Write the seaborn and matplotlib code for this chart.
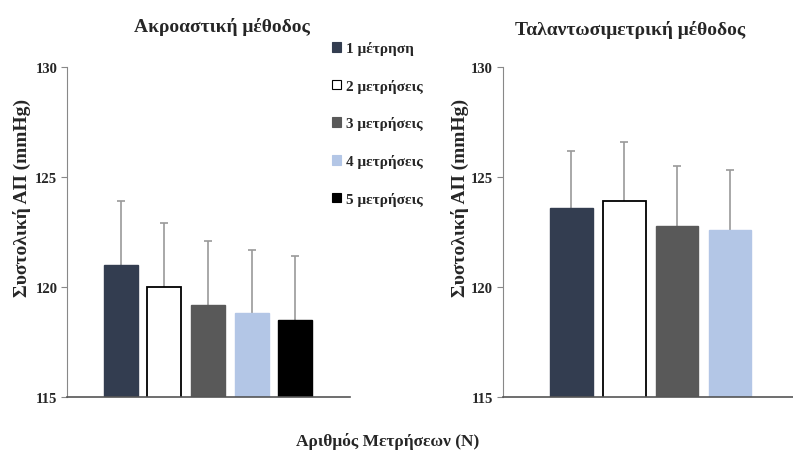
import matplotlib
matplotlib.use("Agg")
import matplotlib.pyplot as plt
import matplotlib.patches as mpatches
import numpy as np
import pandas as pd
import seaborn as sns

labels = ["1 μέτρηση", "2 μετρήσεις", "3 μετρήσεις", "4 μετρήσεις", "5 μετρήσεις"]
colors = ["#333d50", "#ffffff", "#595959", "#b3c6e6", "#000000"]

ausc_mean = [121.0, 120.0, 119.2, 118.8, 118.5]
ausc_sd = [2.9, 2.9, 2.9, 2.9, 2.9]
osc_mean = [123.6, 123.9, 122.75, 122.6]
osc_sd = [2.6, 2.7, 2.75, 2.7]

sns.set_style("white")
plt.rcParams["font.family"] = ["Liberation Serif", "DejaVu Serif"]
plt.rcParams["font.weight"] = "bold"

fig = plt.figure(figsize=[7.93, 4.56], dpi=100)
ax1 = fig.add_axes([0.0845, 0.1272, 0.357, 0.7237])
ax2 = fig.add_axes([0.634, 0.1272, 0.37, 0.7237])


def draw(ax, means, sds, width, xlim):
    n = len(means)
    df = pd.DataFrame({"x": labels[:n], "y": means})
    sns.barplot(data=df, x="x", y="y", hue="x", palette=colors[:n],
                width=width, legend=False, ax=ax, saturation=1, zorder=2)
    for i, p in enumerate(ax.patches):
        if colors[i] == "#ffffff":
            p.set_edgecolor("black")
            p.set_linewidth(1.3)
        else:
            p.set_edgecolor(colors[i])
    x = np.arange(n)
    # symmetric bars drawn behind, so only the upper half shows (Excel style)
    ax.errorbar(x, means, yerr=sds, fmt="none",
                ecolor="#9a9a9a", elinewidth=1.2, capsize=3, capthick=1.2, zorder=1)
    ax.set_ylim(115, 130)
    ax.set_xlim(*xlim)
    ax.set_yticks([115, 120, 125, 130])
    ax.set_xticks([])
    ax.set_xlabel("")
    ax.set_ylabel("")
    for s in ["top", "right"]:
        ax.spines[s].set_visible(False)
    ax.spines["left"].set_color("#888888")
    ax.spines["left"].set_zorder(3)
    ax.spines["bottom"].set_color("#555555")
    ax.spines["bottom"].set_linewidth(1.2)
    ax.spines["bottom"].set_zorder(3)
    ax.tick_params(axis="y", left=True, length=4, color="#888888",
                   labelsize=10.5, pad=3)
    for t in ax.get_yticklabels():
        t.set_fontweight("bold")


draw(ax1, ausc_mean, ausc_sd, 0.78, (-1.23, 5.26))
draw(ax2, osc_mean, osc_sd, 0.8, (-1.3, 4.25))

fig.text(222 / 793, 1 - 27 / 456, "Ακροαστική μέθοδος", ha="center", va="center",
         fontsize=14, fontweight="bold")
fig.text(630 / 793, 1 - 30 / 456, "Ταλαντωσιμετρική μέθοδος", ha="center", va="center",
         fontsize=14, fontweight="bold")
fig.text(22 / 793, 1 - 198 / 456, "Συστολική ΑΠ (mmHg)", rotation=90, ha="center",
         va="center", fontsize=14, fontweight="bold")
fig.text(460 / 793, 1 - 198 / 456, "Συστολική ΑΠ (mmHg)", rotation=90, ha="center",
         va="center", fontsize=14, fontweight="bold")
fig.text(388 / 793, 1 - 442 / 456, "Αριθμός Μετρήσεων (N)", ha="center", va="center",
         fontsize=12.5, fontweight="bold")

handles = [mpatches.Patch(facecolor=c, edgecolor="black" if c == "#ffffff" else c,
                          linewidth=0.8) for c in colors]
fig.legend(handles, labels, loc="upper left", bbox_to_anchor=(326 / 793, 1 - 36 / 456),
           frameon=False, fontsize=11, handlelength=0.6, handleheight=0.6,
           handletextpad=0.3, labelspacing=1.55, borderaxespad=0)

fig.savefig("out.png", dpi=100)
